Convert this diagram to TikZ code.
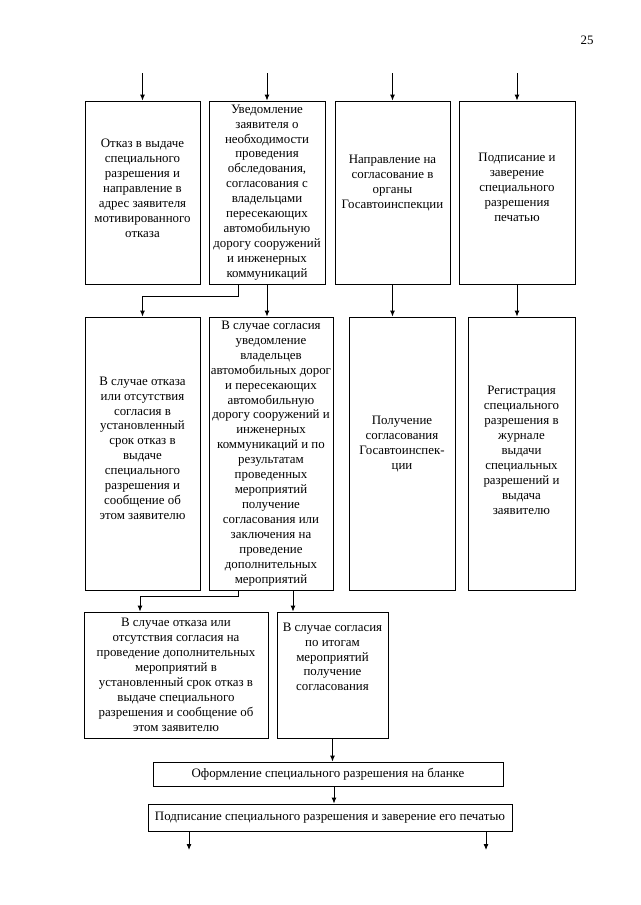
\documentclass[tikz,border=0pt]{standalone}
\usepackage{fontspec}
\setmainfont{Liberation Serif}
\usetikzlibrary{arrows.meta, positioning, calc}
\newcommand{\pxl}{0.9297pt}

\begin{document}
\begin{tikzpicture}[
    x=0.9297pt, y=-0.9297pt,
    box/.style 2 args={draw, line width=0.8pt, align=center,
                minimum width=#1*\pxl, minimum height=#2*\pxl,
                inner sep=1pt, font=\fontsize{12}{13.9}\selectfont},
    arr/.style={-{Latex[length=5.5pt, width=4.5pt]}, line width=0.8pt},
]
\useasboundingbox (0,0) rectangle (640,905);

\node[font=\fontsize{12}{14}\selectfont] (page) at (587,40) {25};

% first row
\node[box={115}{183}] (b1) at (142.5,192.5)
    {Отказ в выдаче\\ специального\\ разрешения и\\ направление в\\
     адрес заявителя\\ мотивированного\\ отказа\\[-6pt]\mbox{}};
\node[box={116}{183}] (b2) at (267,192.5)
    {Уведомление\\ заявителя о\\ необходимости\\ проведения\\ обследования,\\
     согласования с\\ владельцами\\ пересекающих\\ автомобильную\\
     дорогу сооружений\\ и инженерных\\ коммуникаций};
\node[box={115}{183}] (b3) at (392.5,192.5)
    {Направление на\\ согласование в\\ органы\\ Госавтоинспекции\\[6pt]\mbox{}};
\node[box={116}{183}] (b4) at (517,192.5)
    {Подписание и\\ заверение\\ специального\\ разрешения\\ печатью\\[-4pt]\mbox{}};

% second row
\node[box={115}{273}] (b5) at (142.5,453.5)
    {В случае отказа\\ или отсутствия\\ согласия в\\ установленный\\
     срок отказ в\\ выдаче\\ специального\\ разрешения и\\ сообщение об\\
     этом заявителю\\[-4pt]\mbox{}};
\node[box={124}{273}] (b6) at (271,453.5)
    {В случае согласия\\ уведомление\\ владельцев\\ автомобильных дорог\\
     и пересекающих\\ автомобильную\\ дорогу сооружений и\\ инженерных\\
     коммуникаций и по\\ результатам\\ проведенных\\ мероприятий\\
     получение\\ согласования или\\ заключения на\\ проведение\\
     дополнительных\\ мероприятий};
\node[box={106}{273}] (b7) at (402,453.5)
    {Получение\\ согласования\\ Госавтоинспек-\\ ции\\[6pt]\mbox{}};
\node[box={107}{273}] (b8) at (521.5,453.5)
    {Регистрация\\ специального\\ разрешения в\\ журнале\\ выдачи\\
     специальных\\ разрешений и\\ выдача\\ заявителю\\[-8pt]\mbox{}};

% third row
\node[box={184}{126}] (b9) at (176,675)
    {В случае отказа или\\ отсутствия согласия на\\ проведение дополнительных\\
     мероприятий в\\ установленный срок отказ в\\ выдаче специального\\
     разрешения и сообщение об\\ этом заявителю};
\node[box={111}{126}] (b10) at (332.5,675)
    {В случае согласия\\ по итогам\\ мероприятий\\ получение\\
     согласования\\[20pt]\mbox{}};

% final steps
\node[box={350}{24}] (b11) at (328,774)
    {Оформление специального разрешения на бланке};
\node[box={364}{27}] (b12) at (330,817.5)
    {Подписание специального разрешения и заверение его печатью};

% free ends
\coordinate (in1) at (142.5,73);
\coordinate (in2) at (267,73);
\coordinate (in3) at (392.5,73);
\coordinate (in4) at (517,73);
\coordinate (out1) at (189,850);
\coordinate (out2) at (486,850);

\draw[arr] (in1) -- (b1.north);
\draw[arr] (in2) -- (b2.north);
\draw[arr] (in3) -- (b3.north);
\draw[arr] (in4) -- (b4.north);

\draw[arr] (238,0 |- b2.south) -- ++(0,12) -| (b5.north);
\draw[arr] (b2.south) -- (b2.south |- b6.north);
\draw[arr] (b3.south) -- (b3.south |- b7.north);
\draw[arr] (b4.south) -- (b4.south |- b8.north);

\draw[arr] (238,0 |- b6.south) -- ++(0,6) -| (140,0 |- b9.north);
\draw[arr] (293,0 |- b6.south) -- (293,0 |- b10.north);

\draw[arr] (b10.south) -- (b10.south |- b11.north);
\draw[arr] (334,0 |- b11.south) -- (334,0 |- b12.north);
\draw[arr] (189,0 |- b12.south) -- (out1);
\draw[arr] (486,0 |- b12.south) -- (out2);

\end{tikzpicture}
\end{document}
